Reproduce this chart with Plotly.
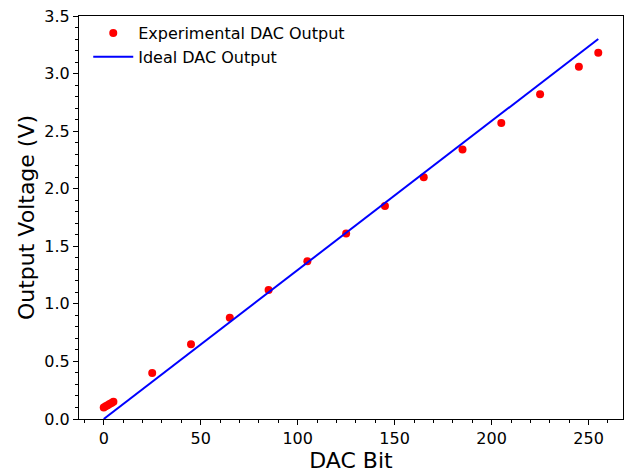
import plotly.graph_objects as go

dac_bits = [0, 1, 2, 3, 4, 5, 25, 45, 65, 85, 105, 125, 145, 165, 185, 205, 225, 245, 255]
measured_v = [0.10, 0.11, 0.12, 0.13, 0.14, 0.15, 0.40, 0.65, 0.88, 1.12, 1.37, 1.61,
              1.85, 2.10, 2.34, 2.57, 2.82, 3.06, 3.18]
ideal_bits = [0, 255]
vref = 3.3
ideal_v = [b * vref / 255 for b in ideal_bits]

font = "DejaVu Sans, sans-serif"

fig = go.Figure()
fig.add_trace(go.Scatter(x=dac_bits, y=measured_v, mode="markers", name="Experimental DAC Output",
                         marker=dict(color="#ff0000", size=8)))
fig.add_trace(go.Scatter(x=ideal_bits, y=ideal_v, mode="lines", name="Ideal DAC Output",
                         line=dict(color="#0000ff", width=2)))

axis_common = dict(showline=True, linecolor="black", linewidth=1, mirror=True,
                   ticks="outside", ticklen=5, tickwidth=1, tickcolor="black",
                   showgrid=False, zeroline=False,
                   tickfont=dict(family=font, size=16, color="black"))

fig.update_layout(
    width=631, height=474,
    margin=dict(l=79, r=7, t=13, b=55),
    plot_bgcolor="white", paper_bgcolor="white",
    font=dict(family=font, color="black"),
    showlegend=True,
    legend=dict(x=0.017, y=1.0, xanchor="left", yanchor="top",
                bgcolor="rgba(255,255,255,0)", borderwidth=0, itemwidth=40,
                font=dict(family=font, size=16, color="black"), tracegroupgap=0),
    xaxis=dict(range=[-12.75, 267.75], tick0=0, dtick=50,
               title=dict(text="DAC Bit", font=dict(family=font, size=22), standoff=3),
               minor=dict(ticks="outside", ticklen=3, dtick=10, tick0=0, tickcolor="black"),
               **axis_common),
    yaxis=dict(range=[0, 3.5], tick0=0, dtick=0.5, tickformat=".1f",
               title=dict(text="Output Voltage (V)", font=dict(family=font, size=22), standoff=3),
               minor=dict(ticks="outside", ticklen=3, dtick=0.1, tick0=0, tickcolor="black"),
               **axis_common),
)

fig.write_html("out.html")
